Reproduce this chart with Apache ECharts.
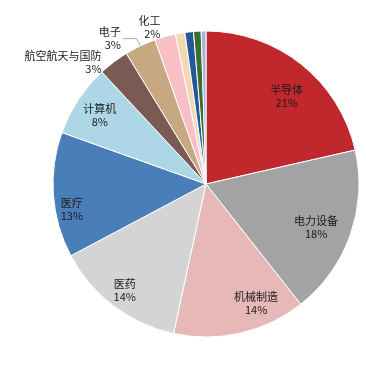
<!DOCTYPE html>
<html>
<head>
<meta charset="utf-8">
<script src="https://cdn.jsdelivr.net/npm/echarts@6/dist/echarts.min.js"></script>
<style>html,body{margin:0;padding:0;background:#fff;}#c{width:366px;height:372px;}</style>
</head>
<body>
<div id="c"></div>
<script>
const categories = ['半导体','电力设备','机械制造','医药','医疗','计算机','航空航天与国防','电子','化工','其他1','其他2','其他3','其他4'];
const values = [21.4, 17.9, 14.0, 13.8, 13.2, 7.6, 3.2, 3.3, 2.2, 1.0, 0.9, 0.8, 0.5];
const colors = ['#C0282D','#A3A3A3','#E6B9B8','#D4D4D4','#4A7EB8','#ADD6E6','#7A5A52','#C8A882','#F9BFC7','#F2D9B5','#23599A','#3D6E2F','#9FB7DE'];
const innerLabelled = ['半导体','电力设备','机械制造','医药','医疗','计算机'];
const outerLabelled = ['航空航天与国防','电子','化工'];

// label styling (Excel "best fit" nudges)
const innerNudge = {
  '半导体':[0,14], '电力设备':[-12,0], '机械制造':[21,-7], '医药':[-3,3], '医疗':[-5,16], '计算机':[2,3]
};
const outerLine = {
  '航空航天与国防': {show:false, length:0, length2:10},
  '电子': {show:true, length:8, length2:14},
  '化工': {show:false, length:10, length2:0}
};
const fmt = p => p.name + '\n' + Math.round(p.value) + '%';
const textStyle = {fontFamily:'"Noto Sans CJK SC", sans-serif', fontSize:11, color:'#1a1a1a', lineHeight:13};

const mainData = categories.map((n,i)=>{
  const d = {name:n, value:values[i], itemStyle:{color:colors[i]}};
  if (outerLabelled.includes(n)) {
    d.label = Object.assign({show:true, position:'outside', formatter:fmt, distanceToLabelLine:2}, textStyle);
    d.labelLine = Object.assign({lineStyle:{color:'#aaa', width:1}}, outerLine[n]);
  }
  return d;
});
const labelData = categories.map((n,i)=>{
  const d = {name:n, value:values[i]};
  if (innerLabelled.includes(n)) {
    d.label = Object.assign({show:true, position:'inside', formatter:fmt, offset:innerNudge[n]}, textStyle);
  }
  return d;
});

const chart = echarts.init(document.getElementById('c'));
chart.setOption({
  backgroundColor:'#fff',
  animation:false,
  series:[
    {
      type:'pie', center:[206,184], radius:[0,153], startAngle:90, clockwise:true,
      avoidLabelOverlap:false, silent:true,
      labelLayout:{hideOverlap:false},
      itemStyle:{borderColor:'#fff', borderWidth:1},
      label:{show:false}, labelLine:{show:false},
      data:mainData
    },
    {
      type:'pie', center:[206,184], radius:[100,153], startAngle:90, clockwise:true,
      avoidLabelOverlap:false, silent:true,
      labelLayout:{hideOverlap:false},
      itemStyle:{color:'rgba(0,0,0,0)', borderWidth:0},
      label:{show:false}, labelLine:{show:false},
      data:labelData
    }
  ]
});
</script>
</body>
</html>
